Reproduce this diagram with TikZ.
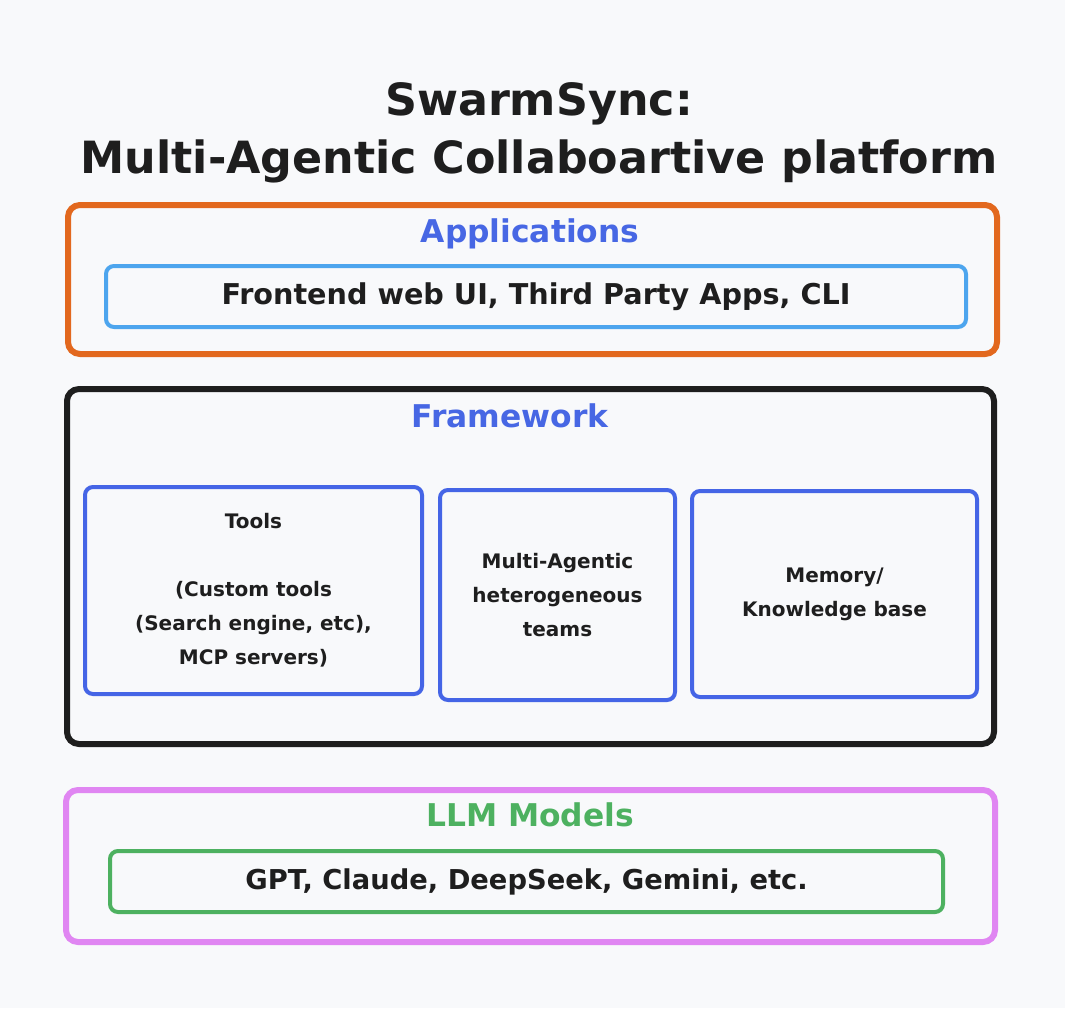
\documentclass[tikz,border=0pt]{standalone}
\usepackage{fontspec}
\setmainfont{DejaVu Sans}
\definecolor{paper}{HTML}{F8F9FB}
\definecolor{ink}{HTML}{1E1E1E}
\definecolor{headblue}{HTML}{4767E4}
\definecolor{boxblue}{HTML}{4565E6}
\definecolor{skyblue}{HTML}{4DA5EE}
\definecolor{apporange}{HTML}{E2681E}
\definecolor{llmviolet}{HTML}{E086F2}
\definecolor{llmgreen}{HTML}{4DB160}
\tikzset{
    layer/.style={draw, line width=4.5pt, rounded corners=9pt, inner sep=0pt},
    part/.style={draw, line width=3pt, rounded corners=6pt, inner sep=0pt, text=ink, align=center,
        font=\fontsize{15}{25.5}\selectfont\bfseries},
    heading/.style={font=\fontsize{23.5}{25}\selectfont\bfseries, text=headblue},
}
\begin{document}
\begin{tikzpicture}[x=0.75pt, y=-0.75pt]
    \fill[paper] (0, 0) rectangle (1065, 1008);
    \useasboundingbox (0, 0) rectangle (1065, 1008);
    \node[font=\fontsize{33.3}{43.5}\selectfont\bfseries, text=ink, align=center] (title) at (539, 133)
        {SwarmSync:\\Multi-Agentic Collaboartive platform};
    % applications
    \node[layer, draw=apporange, minimum width=696.75pt, minimum height=111.75pt] (apps) at (532.5, 279.5) {};
    \node[heading] (appshead) at (530, 234) {Applications};
    \node[part, draw=skyblue, minimum width=645pt, minimum height=45.75pt,
        font=\fontsize{21.5}{25}\selectfont\bfseries] (appsin) at (536, 296.5) {Frontend web UI, Third Party Apps, CLI};
    % framework
    \node[layer, draw=ink, minimum width=695.25pt, minimum height=266.25pt] (frame) at (530.5, 566.5) {};
    \node[heading] (framehead) at (510, 416) {Framework};
    \node[part, draw=boxblue, minimum width=252.75pt, minimum height=155.25pt] (tools) at (253.5, 590.5)
        {Tools\\[25.5pt](Custom tools\\(Search engine, etc),\\MCP servers)};
    \node[part, draw=boxblue, minimum width=176.25pt, minimum height=157.5pt] (agents) at (557.5, 595)
        {Multi-Agentic\\heterogeneous\\teams};
    \node[part, draw=boxblue, minimum width=213.75pt, minimum height=154.5pt] (memory) at (834.5, 594)
        {Memory/\\Knowledge base};
    % models
    \node[layer, draw=llmviolet, minimum width=696.75pt, minimum height=114pt] (llm) at (530.5, 866) {};
    \node[heading, text=llmgreen] (llmhead) at (530, 815) {LLM Models};
    \node[part, draw=llmgreen, minimum width=624.75pt, minimum height=45.75pt,
        font=\fontsize{20.5}{25}\selectfont\bfseries] (llmin) at (526.5, 881.5) {GPT, Claude, DeepSeek, Gemini, etc.};
\end{tikzpicture}
\end{document}
